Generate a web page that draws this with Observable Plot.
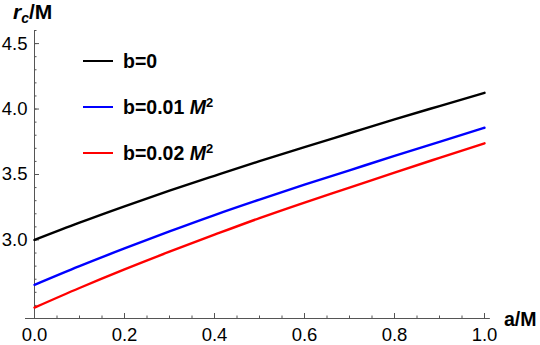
<!DOCTYPE html>
<html><head><meta charset="utf-8">
<script src="https://cdn.jsdelivr.net/npm/d3@7"></script>
<script src="https://cdn.jsdelivr.net/npm/@observablehq/plot@0.6"></script>
<style>
body{margin:0;background:#fff;}
#wrap{position:relative;width:540px;height:345px;font-family:"Liberation Sans",Arial,sans-serif;color:#000;}
.lab{position:absolute;font-weight:bold;white-space:nowrap;line-height:1;}
.leg{position:absolute;display:flex;align-items:center;height:24px;font-weight:bold;font-size:19.5px;white-space:nowrap;}
.sw{width:30px;height:0;border-top:2.4px solid #000;margin-right:10px;}
</style></head><body><div id="wrap"></div>
<script>
// data
const aValues = [0, 0.1, 0.2, 0.3, 0.4, 0.5, 0.6, 0.7, 0.8, 0.9, 1.0];
const rcB0    = [3.000, 3.132, 3.257, 3.376, 3.490, 3.602, 3.709, 3.815, 3.921, 4.023, 4.124];
const rcB001  = [2.657, 2.800, 2.935, 3.065, 3.190, 3.308, 3.422, 3.532, 3.642, 3.750, 3.857];
const rcB002  = [2.483, 2.633, 2.775, 2.910, 3.040, 3.167, 3.286, 3.400, 3.515, 3.627, 3.738];
const seriesNames = ["b=0", "b=0.01", "b=0.02"];
const seriesUnits = ["", "M", "M"];
const seriesColors = ["#000000", "#0000ff", "#ff0000"];
const xMajorTicks = [0, 0.2, 0.4, 0.6, 0.8, 1.0];
const xMinorTicks = d3.range(0, 21).map(i => i / 20);
const yMajorTicks = [3.0, 3.5, 4.0, 4.5];
const yMinorTicks = d3.range(25, 47).map(i => i / 10);

const seriesValues = [rcB0, rcB001, rcB002];
const rows = [];
seriesValues.forEach((vals, s) => vals.forEach((v, i) => rows.push({a: aValues[i], r: v, series: seriesNames[s]})));

const axisColor = "#555";
const plot = Plot.plot({
  width: 540, height: 345,
  marginLeft: 34, marginRight: 56, marginTop: 30, marginBottom: 27,
  x: {domain: [0, 1]},
  y: {domain: [2.4, 4.6]},
  color: {domain: seriesNames, range: seriesColors},
  style: {fontFamily: '"Liberation Sans", Arial, sans-serif', fontSize: "18.5px", background: "white", color: "black"},
  marks: [
    Plot.ruleY([2.4], {x1: -0.02, x2: 1.013, stroke: axisColor, strokeWidth: 1}),
    Plot.ruleX([0], {stroke: axisColor, strokeWidth: 1}),
    Plot.axisX(xMinorTicks, {tickSize: -2.5, text: null, stroke: axisColor, label: null}),
    Plot.axisX(xMajorTicks, {tickSize: -5, text: null, stroke: axisColor, label: null}),
    Plot.axisX(xMajorTicks, {tickSize: 0, tickPadding: 9, tickFormat: d3.format(".1f"), fill: "black", label: null}),
    Plot.axisY(yMinorTicks, {tickSize: -2.5, text: null, stroke: axisColor, label: null}),
    Plot.axisY(yMajorTicks, {tickSize: -5, text: null, stroke: axisColor, label: null}),
    Plot.axisY(yMajorTicks, {tickSize: 0, tickPadding: 7, tickFormat: d3.format(".1f"), fill: "black", label: null}),
    Plot.line(rows, {x: "a", y: "r", z: "series", stroke: "series", strokeWidth: 2.4, curve: "monotone-x"})
  ]
});
const wrap = document.getElementById("wrap");
wrap.appendChild(plot);

// axis labels
const yl = document.createElement("div");
yl.className = "lab";
yl.style.cssText = "left:13px;top:1px;font-size:21px;";
yl.innerHTML = '<i>r</i><sub style="font-size:14px;font-style:italic;vertical-align:-4px">c</sub>/M';
wrap.appendChild(yl);
const xl = document.createElement("div");
xl.className = "lab";
xl.style.cssText = "left:504px;top:310px;font-size:19.5px;";
xl.textContent = "a/M";
wrap.appendChild(xl);

// legend
const legendTop = [61, 107, 153];
seriesNames.forEach((name, i) => {
  const d = document.createElement("div");
  d.className = "leg";
  d.style.left = "83px";
  d.style.top = (legendTop[i] - 12) + "px";
  const sw = document.createElement("div");
  sw.className = "sw";
  sw.style.borderTopColor = seriesColors[i];
  d.appendChild(sw);
  const t = document.createElement("span");
  t.innerHTML = name + (seriesUnits[i] ? '&nbsp;<i>' + seriesUnits[i] + '</i><sup style="font-size:13px;vertical-align:7px">2</sup>' : "");
  d.appendChild(t);
  wrap.appendChild(d);
});
</script></body></html>
